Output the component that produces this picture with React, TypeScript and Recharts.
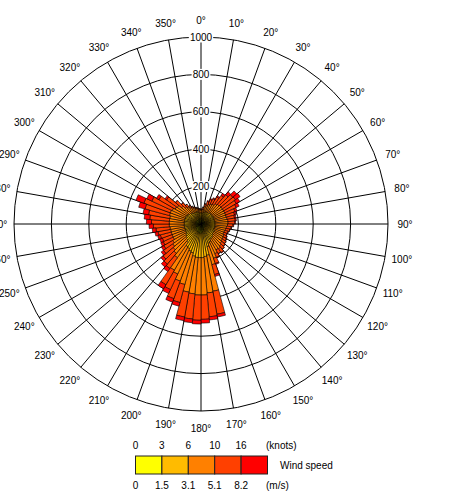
import React from "react";
import {
  RadialBarChart,
  RadialBar,
  PolarGrid,
  PolarAngleAxis,
  PolarRadiusAxis,
} from "recharts";

// wind direction sectors, each covering [dir, dir + 5°)
const directions = [
  0, 5, 10, 15, 20, 25, 30, 35, 40, 45, 50, 55, 60, 65, 70, 75, 80, 85,
  90, 95, 100, 105, 110, 115, 120, 125, 130, 135, 140, 145, 150, 155, 160, 165, 170, 175,
  180, 185, 190, 195, 200, 205, 210, 215, 220, 225, 230, 235, 240, 245, 250, 255, 260, 265,
  270, 275, 280, 285, 290, 295, 300, 305, 310, 315, 320, 325, 330, 335, 340, 345, 350, 355,
];

// counts per speed class (m/s)
const speed0to1_5 = [
  25, 25, 25, 25, 25, 25, 25, 25, 25, 25, 25, 25, 25, 25, 25, 25, 25, 25,
  25, 25, 25, 25, 25, 25, 25, 25, 25, 30, 30, 30, 35, 35, 40, 45, 45, 50,
  50, 50, 50, 45, 45, 45, 40, 40, 35, 35, 35, 35, 30, 30, 30, 30, 30, 30,
  30, 30, 30, 30, 30, 30, 30, 30, 30, 30, 30, 30, 30, 30, 30, 28, 25, 25,
];
const speed1_5to3_1 = [
  35, 35, 40, 40, 45, 45, 45, 50, 50, 50, 50, 50, 50, 50, 50, 50, 50, 50,
  50, 50, 50, 50, 50, 55, 55, 55, 60, 60, 65, 65, 70, 75, 85, 125, 130, 130,
  130, 130, 125, 115, 110, 100, 100, 80, 75, 70, 65, 60, 60, 60, 60, 60, 60, 60,
  60, 60, 60, 60, 60, 60, 55, 55, 50, 45, 45, 40, 40, 40, 38, 37, 35, 35,
];
const speed3_1to5_1 = [
  15, 20, 30, 38, 42, 48, 52, 57, 62, 65, 65, 65, 65, 65, 65, 67, 70, 70,
  67, 62, 59, 56, 55, 55, 58, 60, 60, 63, 67, 65, 70, 85, 100, 195, 195, 200,
  200, 195, 195, 175, 170, 150, 145, 100, 95, 90, 85, 80, 75, 75, 75, 75, 77, 80,
  80, 80, 80, 85, 85, 80, 75, 70, 55, 45, 38, 33, 28, 23, 19, 18, 18, 15,
];
const speed5_1to8_2 = [
  5, 10, 15, 22, 28, 32, 45, 55, 68, 82, 85, 78, 68, 53, 46, 40, 39, 35,
  29, 25, 22, 19, 18, 18, 20, 23, 23, 23, 25, 23, 22, 30, 55, 125, 128, 130,
  135, 135, 135, 100, 100, 92, 90, 70, 75, 70, 60, 55, 58, 55, 60, 68, 75, 85,
  95, 105, 115, 135, 150, 120, 100, 70, 42, 28, 17, 12, 7, 5, 5, 5, 5, 5,
];
const speedOver8_2 = [
  0, 0, 0, 5, 5, 5, 8, 13, 20, 28, 30, 22, 17, 12, 9, 8, 6, 5,
  4, 3, 2, 2, 2, 2, 2, 2, 2, 2, 3, 2, 3, 5, 10, 15, 17, 20,
  20, 20, 20, 20, 20, 23, 25, 20, 20, 15, 15, 15, 15, 15, 15, 17, 20, 23,
  27, 30, 30, 35, 45, 30, 15, 10, 3, 2, 0, 0, 0, 0, 0, 0, 0, 0,
];

const speedColors = ["#ffff00", "#ffbb00", "#ff8000", "#ff4000", "#ff0000"];
const speedKeys = ["s1", "s2", "s3", "s4", "s5"];
const knotsLabels = ["0", "3", "6", "10", "16"];
const msLabels = ["0", "1.5", "3.1", "5.1", "8.2"];

const gridDirections = [
  0, 10, 20, 30, 40, 50, 60, 70, 80, 90, 100, 110, 120, 130, 140, 150, 160, 170,
  180, 190, 200, 210, 220, 230, 240, 250, 260, 270, 280, 290, 300, 310, 320, 330, 340, 350,
];
const radiusTicks = [200, 400, 600, 800, 1000];

const data = directions.map((dir, i) => ({
  dir,
  s1: speed0to1_5[i],
  s2: speed1_5to3_1[i],
  s3: speed3_1to5_1[i],
  s4: speed5_1to8_2[i],
  s5: speedOver8_2[i],
}));

const FONT = "'Liberation Sans', Arial, sans-serif";
const CX = 201;
const CY = 224;
const SECTOR = 5;

// recharts puts the tick at the far edge of each sector; rotate it back to the sector start
function AngleTick(props: any) {
  const { x, y, payload } = props;
  if (payload.value % 10 !== 0) return <g />;
  const a = (-SECTOR * Math.PI) / 180;
  const dx = x - CX;
  const dy = y - CY;
  const tx = CX + dx * Math.cos(a) - dy * Math.sin(a);
  const ty = CY + dx * Math.sin(a) + dy * Math.cos(a);
  return (
    <text
      x={tx}
      y={ty}
      textAnchor="middle"
      dominantBaseline="central"
      fontSize={10}
      fontFamily={FONT}
      fill="#000"
    >
      {payload.value}°
    </text>
  );
}

function RadiusTick(props: any) {
  const { x, y, payload } = props;
  const w = String(payload.value).length * 5.6 + 2;
  return (
    <g>
      <rect x={x - w / 2} y={y - 5.5} width={w} height={11} fill="#fff" />
      <text
        x={x}
        y={y}
        textAnchor="middle"
        dominantBaseline="central"
        fontSize={10}
        fontFamily={FONT}
        fill="#000"
      >
        {payload.value}
      </text>
    </g>
  );
}

function SpeedLegend() {
  const boxW = 26.4;
  const x0 = 135.5;
  return (
    <svg
      width={451}
      height={60}
      style={{ position: "absolute", left: 0, top: 436 }}
      fontFamily={FONT}
      fontSize={10}
    >
      {speedColors.map((c, i) => (
        <rect key={c} x={x0 + i * boxW} y={20} width={boxW} height={18} fill={c} stroke="#222" strokeWidth={1} />
      ))}
      {knotsLabels.map((t, i) => (
        <text key={"k" + t} x={x0 + i * boxW} y={9} textAnchor="middle" dominantBaseline="central">
          {t}
        </text>
      ))}
      <text x={266} y={9} dominantBaseline="central">(knots)</text>
      {msLabels.map((t, i) => (
        <text key={"m" + t} x={x0 + i * boxW} y={49} textAnchor="middle" dominantBaseline="central">
          {t}
        </text>
      ))}
      <text x={266} y={49} dominantBaseline="central">(m/s)</text>
      <text x={280} y={29} dominantBaseline="central">Wind speed</text>
    </svg>
  );
}

export default function App() {
  return (
    <div style={{ position: "absolute", left: 0, top: 0, width: 451, height: 496, background: "#fff" }}>
      <RadialBarChart
        width={451}
        height={496}
        data={data}
        layout="centric"
        cx={CX}
        cy={CY}
        innerRadius={0}
        outerRadius={187}
        startAngle={90 - SECTOR}
        endAngle={-270 - SECTOR}
        barCategoryGap={0}
        barGap={0}
        margin={{ top: 0, right: 0, bottom: 0, left: 0 }}
      >
        <PolarGrid
          gridType="circle"
          polarAngles={gridDirections.map((d) => 90 - d)}
          stroke="#000"
          strokeWidth={1}
          strokeOpacity={1}
        />
        <PolarAngleAxis
          dataKey="dir"
          type="category"
          tickSize={17}
          tickLine={false}
          axisLine={false}
          tick={<AngleTick />}
        />
        {speedKeys.map((k, i) => (
          <RadialBar
            key={k}
            dataKey={k}
            stackId="wind"
            fill={speedColors[i]}
            stroke="#000"
            strokeWidth={0.6}
            isAnimationActive={false}
          />
        ))}
        <PolarRadiusAxis
          angle={90}
          type="number"
          domain={[0, 1000]}
          ticks={radiusTicks}
          axisLine={false}
          tickLine={false}
          tick={<RadiusTick />}
        />
      </RadialBarChart>
      <SpeedLegend />
    </div>
  );
}
